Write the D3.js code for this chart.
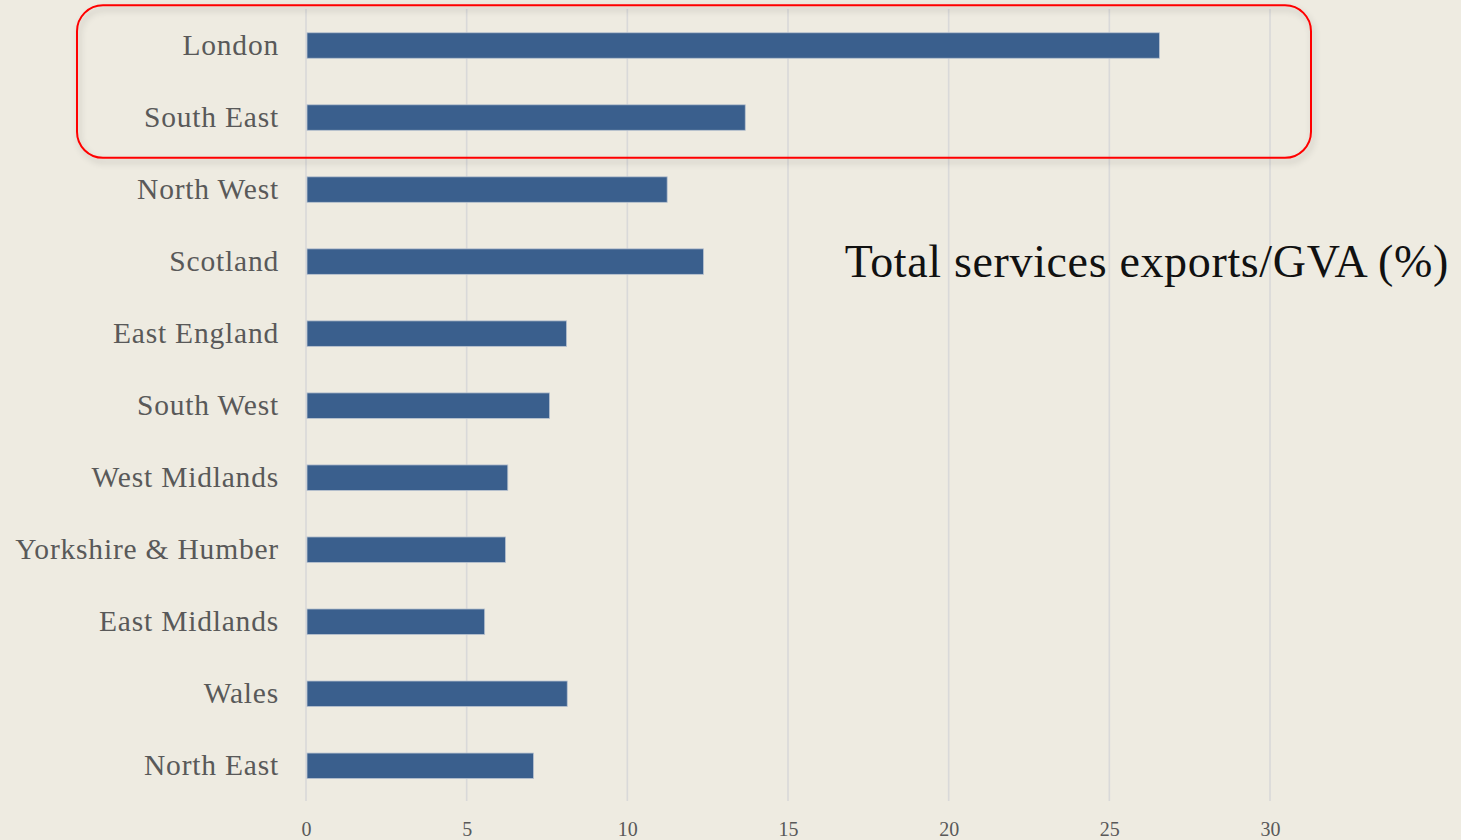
<!DOCTYPE html>
<html>
<head>
<meta charset="utf-8">
<script src="https://cdn.jsdelivr.net/npm/d3@7"></script>
<style>
  html, body { margin: 0; padding: 0; background: #eeebe1; }
  svg { display: block; }
</style>
</head>
<body>
<svg id="chart" width="1461" height="840"></svg>
<script>
// UK regions, top to bottom
const regions = [
  "London", "South East", "North West", "Scotland", "East England",
  "South West", "West Midlands", "Yorkshire & Humber", "East Midlands",
  "Wales", "North East"
];
// Total services exports as a share of GVA (%)
const exportShare = [26.56, 13.67, 11.24, 12.37, 8.11, 7.58, 6.28, 6.21, 5.56, 8.13, 7.08];
const tickValues = [0, 5, 10, 15, 20, 25, 30];
const titleText = "Total services exports/GVA (%)";
const highlighted = ["London", "South East"];

const svg = d3.select("#chart");
const W = 1461, H = 840;
const serif = "'Liberation Serif', 'DejaVu Serif', serif";

svg.append("rect").attr("width", W).attr("height", H).attr("fill", "#eeebe1");

const x = d3.scaleLinear().domain([0, 30]).range([306, 1270]);
const y = d3.scaleBand().domain(regions).range([9.5, 801.8])
  .paddingInner(0.646).paddingOuter(0.323);

// vertical gridlines
svg.append("g").selectAll("line").data(tickValues).join("line")
  .attr("x1", d => x(d)).attr("x2", d => x(d))
  .attr("y1", 9).attr("y2", 801)
  .attr("stroke", "#d9d9d9").attr("stroke-width", 1.6);

// bars
svg.append("g").selectAll("rect").data(regions).join("rect")
  .attr("x", x(0) + 1)
  .attr("y", d => y(d))
  .attr("width", (d, i) => x(exportShare[i]) - x(0) - 1)
  .attr("height", y.bandwidth())
  .attr("fill", "#3a5f8d")
  .attr("stroke", "#b9c3d0").attr("stroke-width", 0.8);

// category labels
const yAxis = d3.axisLeft(y).tickSize(0).tickPadding(0);
const gy = svg.append("g").attr("transform", "translate(279,0)").call(yAxis);
gy.select(".domain").remove();
gy.selectAll("text")
  .attr("dy", null).attr("dominant-baseline", null)
  .attr("y", 9.5)
  .attr("x", 0)
  .attr("fill", "#595959")
  .style("font-family", serif)
  .style("font-size", "29.5px")
  .style("letter-spacing", "0.8px");

// value axis labels
const xAxis = d3.axisBottom(x).tickValues(tickValues).tickSize(0).tickPadding(0);
const gx = svg.append("g").attr("transform", "translate(0,820)").call(xAxis);
gx.select(".domain").remove();
gx.selectAll("text")
  .attr("dy", null)
  .attr("y", 15.5)
  .attr("fill", "#595959")
  .style("font-family", serif)
  .style("font-size", "20px");

// chart title
svg.append("text")
  .attr("x", 1449).attr("y", 277)
  .attr("text-anchor", "end")
  .attr("fill", "#111")
  .style("font-family", serif)
  .style("font-size", "46px")
  .style("letter-spacing", "0.65px")
  .text(titleText);

// callout box around the leading regions
const defs = svg.append("defs");
const f = defs.append("filter").attr("id", "shadow")
  .attr("x", "-5%").attr("y", "-20%").attr("width", "110%").attr("height", "150%");
f.append("feDropShadow").attr("dx", 2).attr("dy", 4).attr("stdDeviation", 3)
  .attr("flood-color", "#000").attr("flood-opacity", 0.22);

const hTop = y(highlighted[0]) - 27.5;
const hBot = y(highlighted[highlighted.length - 1]) + y.bandwidth() + 27.5;
svg.append("rect")
  .attr("x", 77).attr("y", hTop)
  .attr("width", 1311 - 77).attr("height", hBot - hTop)
  .attr("rx", 26).attr("ry", 26)
  .attr("fill", "none")
  .attr("stroke", "#ff0000").attr("stroke-width", 2)
  .attr("filter", "url(#shadow)");
</script>
</body>
</html>
